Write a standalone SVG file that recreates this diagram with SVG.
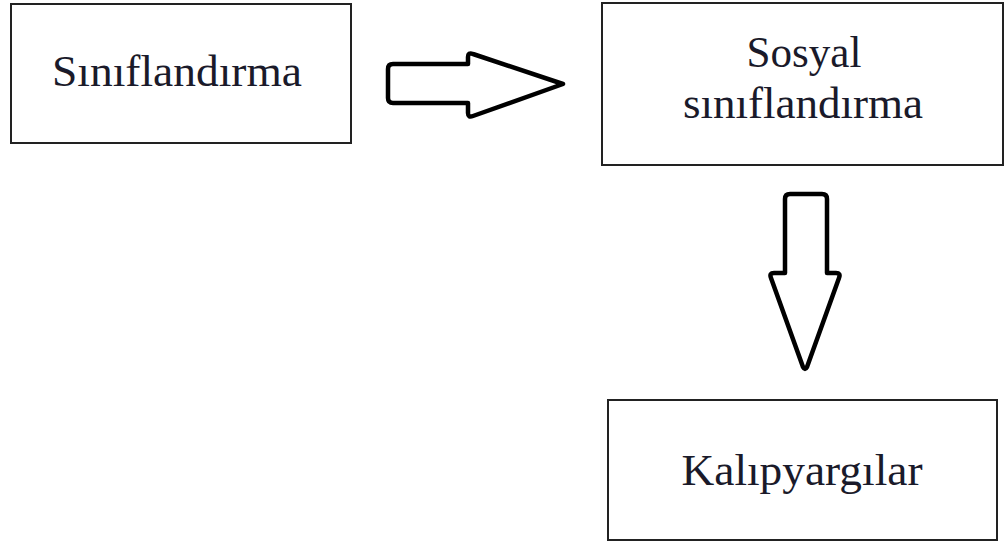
<svg xmlns="http://www.w3.org/2000/svg" width="1006" height="542" viewBox="0 0 1006 542">
<style>
.box{fill:#fff;stroke:#222;stroke-width:2}
.lbl{font-family:"Liberation Serif","DejaVu Serif",serif;font-size:44px;fill:#1a1a2a;text-anchor:middle}
.arr{fill:#fff;stroke:#000;stroke-width:4.5;stroke-linejoin:round}
</style>
<rect width="1006" height="542" fill="#fff"/>
<g id="node-siniflandirma">
<rect class="box" x="11" y="4" width="340" height="139"/>
<text class="lbl" x="177" y="86" textLength="250" lengthAdjust="spacingAndGlyphs">Sınıflandırma</text>
</g>
<g id="node-sosyal">
<rect class="box" x="602" y="3" width="401" height="162"/>
<text class="lbl" x="804" y="67" textLength="115" lengthAdjust="spacingAndGlyphs">Sosyal</text>
<text class="lbl" x="803" y="118" textLength="240" lengthAdjust="spacingAndGlyphs">sınıflandırma</text>
</g>
<g id="node-kalipyargilar">
<rect class="box" x="608" y="400" width="389" height="140"/>
<text class="lbl" x="802" y="485" textLength="241" lengthAdjust="spacingAndGlyphs">Kalıpyargılar</text>
</g>
<g id="connectors">
<path class="arr" d="M393,64 L468,64 L468,57 Q468,52 473,54 L563,84 L473,116 Q468,118 468,113 L468,103 L393,103 Q388,103 388,98 L388,69 Q388,64 393,64 Z"/>
<path class="arr" d="M790,194 L822,194 Q827,194 827,199 L827,273 L836,273 Q841,273 839,278 L807,367 Q805,371 803,367 L771,278 Q769,273 774,273 L785,273 L785,199 Q785,194 790,194 Z"/>
</g>
</svg>
